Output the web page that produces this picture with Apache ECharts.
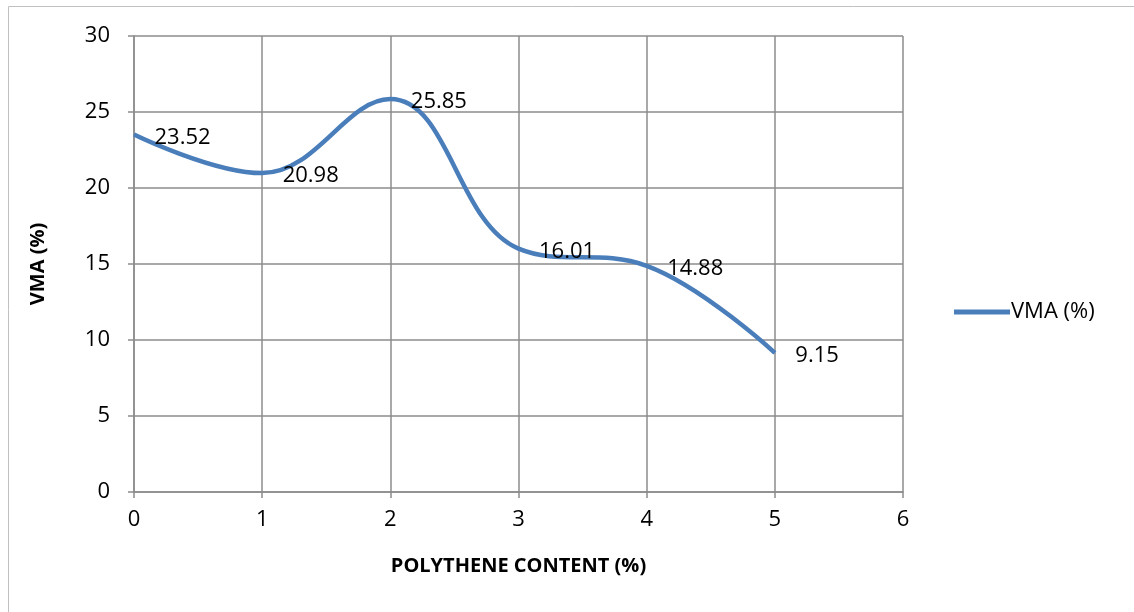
<!DOCTYPE html>
<html>
<head>
<meta charset="utf-8">
<script src="https://cdn.jsdelivr.net/npm/echarts@6/dist/echarts.min.js"></script>
<style>
html,body{margin:0;padding:0;background:#fff;}
#c{width:1134px;height:612px;}
</style>
</head>
<body>
<div id="c"></div>
<script>
const xValues = [0, 1, 2, 3, 4, 5];
const vmaValues = [23.52, 20.98, 25.85, 16.01, 14.88, 9.15];
const seriesName = 'VMA (%)';
const xAxisTitle = 'POLYTHENE CONTENT (%)';
const yAxisTitle = 'VMA (%)';

const font = '"Open Sans", "Liberation Sans", sans-serif';
const gridColor = '#8c8c8c';
const chart = echarts.init(document.getElementById('c'));
chart.setOption({
  animation: false,
  textStyle: { fontFamily: font, color: '#000' },
  graphic: [{
    type: 'rect',
    shape: { x: 8.5, y: 6.5, width: 1300, height: 800 },
    style: { fill: 'none', stroke: '#c0c0c0', lineWidth: 1 },
    silent: true
  }],
  legend: {
    left: 949, top: 296,
    itemWidth: 56, itemHeight: 5,
    itemGap: 0,
    icon: 'rect',
    textStyle: { fontSize: 22, color: '#000', fontFamily: font, padding: [0, 0, 0, -4] },
    data: [seriesName]
  },
  grid: { left: 134, top: 36, width: 769, height: 456 },
  xAxis: {
    type: 'value', min: 0, max: 6, interval: 1,
    name: xAxisTitle, nameLocation: 'middle', nameGap: 64,
    nameTextStyle: { fontSize: 20, fontWeight: 'bold', color: '#000', fontFamily: font },
    axisLine: { lineStyle: { color: gridColor, width: 1.5 } },
    axisTick: { show: true, length: 6, lineStyle: { color: gridColor, width: 1.5 } },
    axisLabel: { fontSize: 22, color: '#000', margin: 17 },
    splitLine: { show: true, lineStyle: { color: gridColor, width: 1.5 } }
  },
  yAxis: {
    type: 'value', min: 0, max: 30, interval: 5,
    name: yAxisTitle, nameLocation: 'middle', nameGap: 86, nameRotate: 90,
    nameTextStyle: { fontSize: 20, fontWeight: 'bold', color: '#000', fontFamily: font },
    axisLine: { show: true, lineStyle: { color: gridColor, width: 1.5 } },
    axisTick: { show: true, length: 6, lineStyle: { color: gridColor, width: 1.5 } },
    axisLabel: { fontSize: 22, color: '#000', margin: 24 },
    splitLine: { show: true, lineStyle: { color: gridColor, width: 1.5 } }
  },
  series: [{
    name: seriesName,
    type: 'line',
    smooth: 0.4,
    data: xValues.map((x, i) => [x, vmaValues[i]]),
    symbol: 'circle',
    symbolSize: 1,
    lineStyle: { color: '#4a7ebb', width: 4.5 },
    itemStyle: { color: '#4a7ebb' },
    label: {
      show: true, position: 'right', distance: 20,
      fontSize: 22, color: '#000', fontFamily: font,
      offset: [0, 3],
      formatter: p => p.value[1].toFixed(2)
    }
  }]
});
</script>
</body>
</html>
